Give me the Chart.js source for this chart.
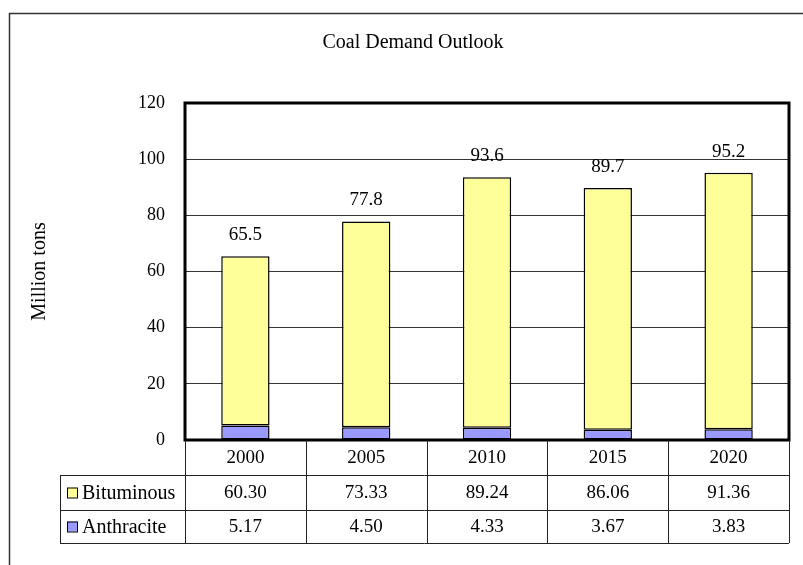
<!DOCTYPE html>
<html>
<head>
<meta charset="utf-8">
<script src="https://cdn.jsdelivr.net/npm/chart.js@4"></script>
<style>
  html, body { margin: 0; padding: 0; background: #fff; }
  #wrap { width: 803px; height: 565px; }
</style>
</head>
<body>
<div id="wrap"><canvas id="coalChart" width="803" height="565"></canvas></div>
<script>
const years = ['2000', '2005', '2010', '2015', '2020'];
const bituminous = [60.30, 73.33, 89.24, 86.06, 91.36];
const anthracite = [5.17, 4.50, 4.33, 3.67, 3.83];
const yTicks = [0, 20, 40, 60, 80, 100, 120];

const font = 'Liberation Serif';

// frame, title, totals above bars and the data table underneath
const tablePlugin = {
    id: 'tablePlugin',
    afterDraw(chart) {
        const ctx = chart.ctx;
        const area = chart.chartArea;
        const x = chart.scales.x;
        const y = chart.scales.y;
        ctx.save();

        // outer frame (only top / left visible)
        ctx.strokeStyle = '#333';
        ctx.lineWidth = 1.5;
        ctx.beginPath();
        ctx.moveTo(9.5, 565);
        ctx.lineTo(9.5, 13.5);
        ctx.lineTo(803, 13.5);
        ctx.stroke();

        // plot frame
        ctx.strokeStyle = '#000';
        ctx.lineWidth = 3;
        ctx.strokeRect(area.left, area.top, area.right - area.left, area.bottom - area.top);

        // title
        ctx.fillStyle = '#000';
        ctx.font = '20px "' + font + '"';
        ctx.textAlign = 'center';
        ctx.textBaseline = 'middle';
        ctx.fillText('Coal Demand Outlook', 413, 43);

        // totals
        ctx.font = '19px "' + font + '"';
        years.forEach((yr, i) => {
            const total = bituminous[i] + anthracite[i];
            ctx.fillText(total.toFixed(1), x.getPixelForValue(i), y.getPixelForValue(total) - 21);
        });

        // data table
        const step = (area.right - area.left) / years.length;
        const rowH = [35, 35, 33];
        const r0 = area.bottom, r1 = r0 + rowH[0], r2 = r1 + rowH[1], r3 = r2 + rowH[2];
        const legLeft = 60;
        ctx.strokeStyle = '#222';
        ctx.lineWidth = 1;
        ctx.beginPath();
        for (let i = 0; i <= years.length; i++) {
            const lx = Math.round(area.left + step * i) + 0.5;
            ctx.moveTo(lx, r0);
            ctx.lineTo(lx, r3);
        }
        ctx.moveTo(legLeft + 0.5, r1);
        ctx.lineTo(legLeft + 0.5, r3);
        [r1, r2, r3].forEach(r => {
            ctx.moveTo(legLeft, Math.round(r) + 0.5);
            ctx.lineTo(area.right, Math.round(r) + 0.5);
        });
        ctx.stroke();

        years.forEach((yr, i) => {
            const cx = x.getPixelForValue(i);
            ctx.fillText(yr, cx, (r0 + r1) / 2 + 1);
            ctx.fillText(bituminous[i].toFixed(2), cx, (r1 + r2) / 2 + 1);
            ctx.fillText(anthracite[i].toFixed(2), cx, (r2 + r3) / 2 + 1);
        });

        const rows = [
            { label: 'Bituminous', color: '#FFFF99', yc: (r1 + r2) / 2 },
            { label: 'Anthracite', color: '#9999FF', yc: (r2 + r3) / 2 }
        ];
        ctx.textAlign = 'left';
        ctx.font = '20px "' + font + '"';
        rows.forEach(r => {
            ctx.fillStyle = r.color;
            ctx.fillRect(67, r.yc - 5, 10, 10);
            ctx.strokeStyle = '#000';
            ctx.strokeRect(67.5, r.yc - 4.5, 10, 10);
            ctx.fillStyle = '#000';
            ctx.fillText(r.label, 82, r.yc + 1);
        });

        ctx.restore();
    }
};

Chart.defaults.font.family = font;
Chart.defaults.font.size = 18;
Chart.defaults.color = '#000';

new Chart(document.getElementById('coalChart'), {
    type: 'bar',
    data: {
        labels: years,
        datasets: [
            {
                label: 'Anthracite',
                data: anthracite,
                backgroundColor: '#9999FF',
                borderColor: '#000',
                borderWidth: 1.5,
                borderSkipped: false
            },
            {
                label: 'Bituminous',
                data: bituminous,
                backgroundColor: '#FFFF99',
                borderColor: '#000',
                borderWidth: 1.5,
                borderSkipped: false
            }
        ]
    },
    options: {
        responsive: false,
        animation: false,
        layout: { padding: { top: 103, right: 14, bottom: 125, left: 0 } },
        datasets: { bar: { categoryPercentage: 1, barPercentage: 0.4 } },
        plugins: {
            legend: { display: false },
            tooltip: { enabled: false }
        },
        scales: {
            x: {
                stacked: true,
                display: false
            },
            y: {
                stacked: true,
                min: 0,
                max: 120,
                afterFit: s => { s.width = 185; },
                afterBuildTicks: s => { s.ticks = yTicks.map(v => ({ value: v })); },
                ticks: { padding: 20 },
                border: { display: false },
                grid: { color: '#333', lineWidth: 1, drawTicks: false },
                title: {
                    display: true,
                    text: 'Million tons',
                    font: { size: 20 },
                    padding: { top: 28, bottom: 0 }
                }
            }
        }
    },
    plugins: [tablePlugin]
});
</script>
</body>
</html>
